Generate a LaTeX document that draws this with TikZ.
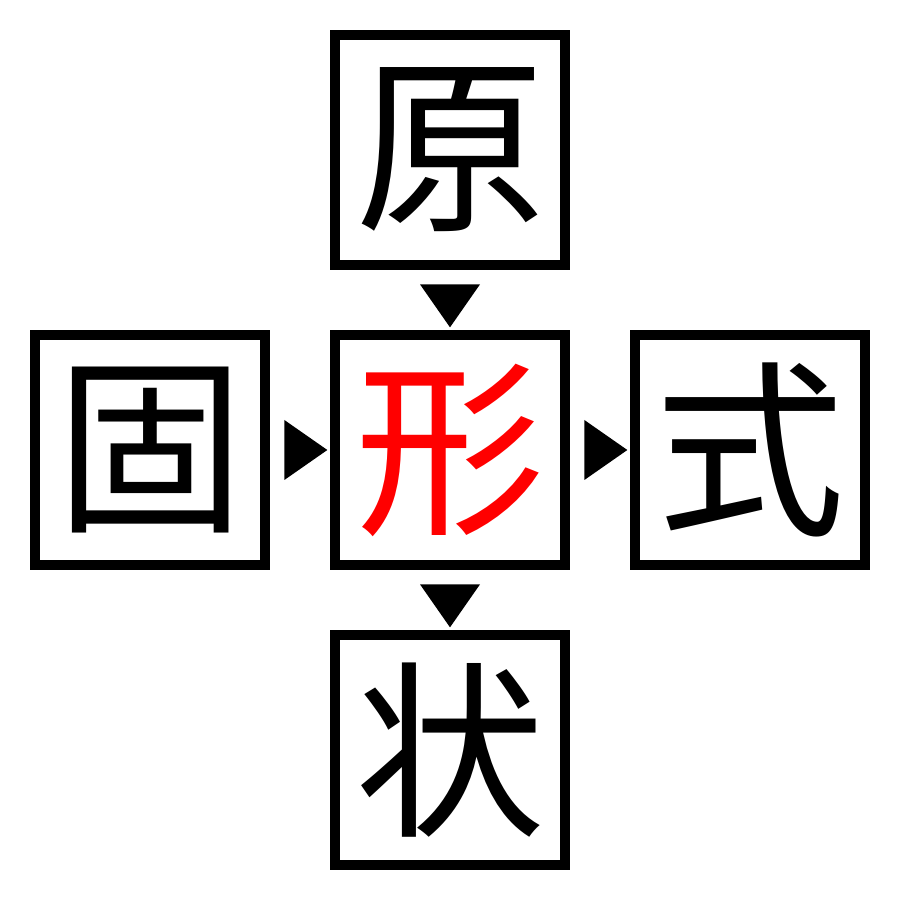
\documentclass[tikz,border=0pt]{standalone}
\usepackage{fontspec}
\newfontfamily\cjk{Noto Sans CJK JP}
\usetikzlibrary{shapes.geometric}

\begin{document}
\begin{tikzpicture}[main/.style = {draw, line width=1mm, minimum size=23mm, inner sep=0pt, font=\cjk\fontsize{54}{54}\selectfont}, tri/.style = {fill, isosceles triangle, isosceles triangle stretches, minimum width=6mm, minimum height=4.3mm, inner sep=0pt, sloped}, node distance={30mm}]
        \useasboundingbox (0,0) rectangle (9,9);
        \node[main, text=red] (xing) at (4.5,4.5) {形};
        \node[main] (yuan) [above of=xing] {原};
        \node[main] (gu) [left of=xing] {固};
        \node[main] (shi) [right of=xing] {式};
        \node[main] (zhuang) [below of=xing] {状};
        \path (yuan) -- node[tri] {} (xing);
        \path (gu) -- node[tri] {} (xing);
        \path (xing) -- node[tri] {} (shi);
        \path (xing) -- node[tri] {} (zhuang);
        \end{tikzpicture}
\end{document}
